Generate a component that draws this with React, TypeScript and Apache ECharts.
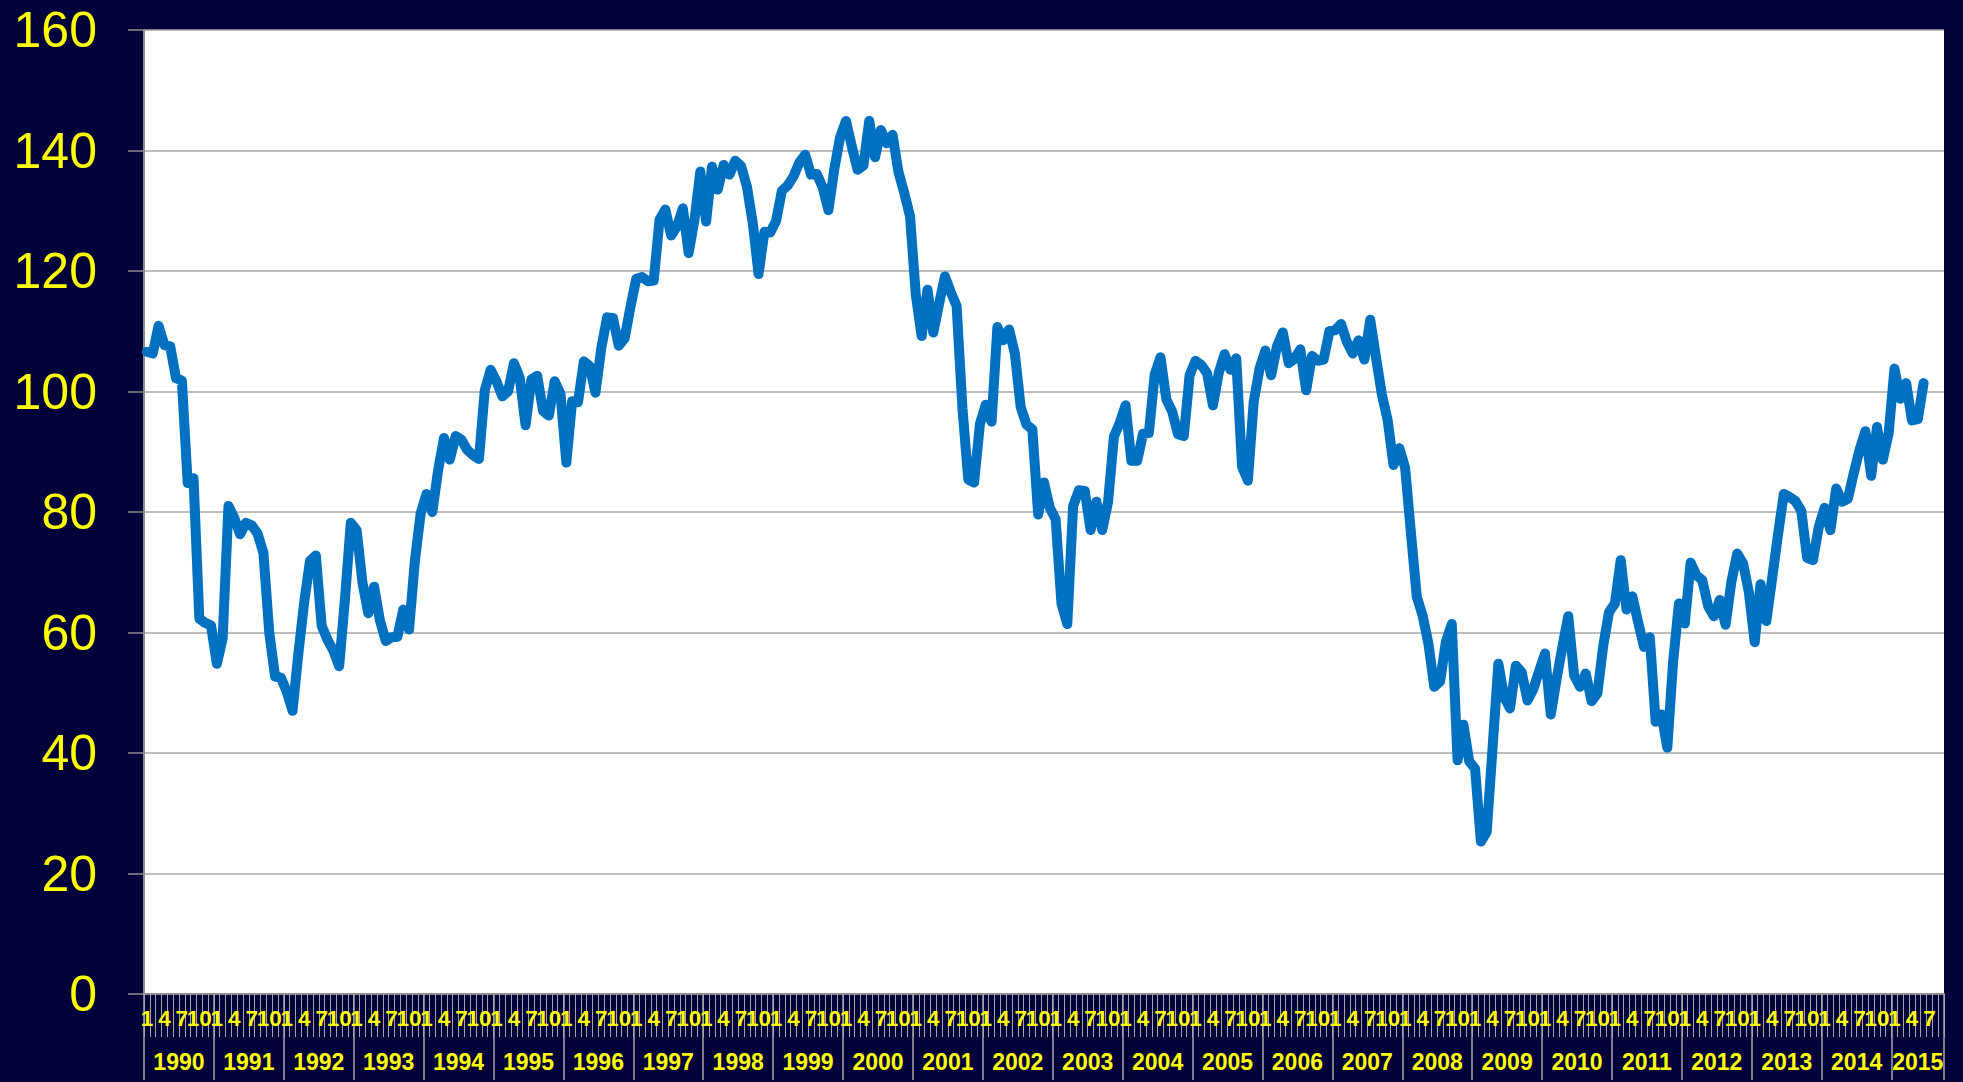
import React, { useEffect, useRef } from "react";
import * as echarts from "echarts";

// Monthly index values, Jan 1990 .. Jun 2015
const V1990 = [106.6, 106.3, 110.9, 107.7, 107.5, 102.2, 101.8, 84.8, 85.6, 62.3, 61.6, 61.2];
const V1991 = [54.8, 59.0, 81.0, 79.0, 76.3, 78.2, 77.8, 76.4, 73.2, 60.0, 52.7, 52.5];
const V1992 = [50.2, 47.0, 56.5, 65.0, 71.9, 72.8, 61.1, 58.8, 57.0, 54.4, 65.6, 78.2];
const V1993 = [77.0, 68.3, 63.2, 67.6, 62.0, 58.6, 59.2, 59.3, 63.8, 60.5, 71.9, 79.8];
const V1994 = [83.0, 80.0, 87.0, 92.3, 88.7, 92.6, 92.0, 90.3, 89.4, 88.8, 100.2, 103.6];
const V1995 = [101.7, 99.2, 100.0, 104.7, 102.3, 94.4, 102.0, 102.6, 96.8, 96.0, 101.7, 99.6];
const V1996 = [88.2, 98.4, 98.2, 105.0, 104.2, 99.8, 107.2, 112.3, 112.2, 107.6, 108.8, 114.0];
const V1997 = [118.7, 119.0, 118.3, 118.4, 128.5, 130.2, 125.9, 127.4, 130.4, 123.0, 128.5, 136.5];
const V1998 = [128.2, 137.3, 133.5, 137.6, 136.0, 138.3, 137.4, 134.0, 128.0, 119.5, 126.5, 126.4];
const V1999 = [128.3, 133.3, 134.2, 135.7, 138.0, 139.3, 136.0, 136.1, 133.9, 130.1, 136.9, 142.2];
const V2000 = [144.9, 140.7, 136.8, 137.5, 144.9, 138.9, 143.4, 141.2, 142.6, 136.5, 133.0, 129.1];
const V2001 = [116.0, 109.2, 116.9, 109.8, 114.6, 119.1, 116.5, 114.2, 97.2, 85.4, 84.9, 94.6];
const V2002 = [97.8, 95.0, 110.7, 108.5, 110.3, 106.3, 97.4, 94.5, 93.7, 79.6, 84.9, 80.7];
const V2003 = [78.8, 64.8, 61.4, 81.0, 83.6, 83.5, 77.0, 81.7, 77.0, 81.7, 92.5, 94.8];
const V2004 = [97.7, 88.5, 88.5, 93.0, 93.1, 102.8, 105.7, 98.7, 96.7, 92.9, 92.6, 102.7];
const V2005 = [105.1, 104.4, 103.0, 97.7, 103.1, 106.2, 103.6, 105.5, 87.5, 85.2, 98.3, 103.8];
const V2006 = [106.8, 102.7, 107.5, 109.8, 104.7, 105.4, 107.0, 100.2, 105.9, 105.1, 105.3, 110.0];
const V2007 = [110.2, 111.2, 108.2, 106.3, 108.5, 105.3, 111.9, 105.6, 99.5, 95.2, 87.8, 90.6];
const V2008 = [87.3, 76.4, 65.9, 62.8, 58.1, 51.0, 51.9, 58.5, 61.4, 38.8, 44.7, 38.6];
const V2009 = [37.4, 25.3, 26.9, 40.8, 54.8, 49.3, 47.4, 54.5, 53.4, 48.7, 50.6, 53.6];
const V2010 = [56.5, 46.4, 52.3, 57.7, 62.7, 52.9, 51.0, 53.2, 48.6, 49.9, 57.8, 63.4];
const V2011 = [64.8, 72.0, 63.8, 66.0, 61.7, 57.6, 59.2, 45.2, 46.4, 40.9, 55.2, 64.8];
const V2012 = [61.5, 71.6, 69.5, 68.7, 64.4, 62.7, 65.4, 61.3, 68.4, 73.1, 71.5, 66.7];
const V2013 = [58.4, 68.0, 61.9, 69.0, 76.2, 83.0, 82.5, 81.8, 80.2, 72.4, 72.0, 77.5];
const V2014 = [80.7, 77.0, 83.9, 81.7, 82.2, 86.4, 90.3, 93.4, 86.0, 94.1, 88.7, 93.1];
const V2015 = [103.8, 98.8, 101.4, 95.2, 95.4, 101.4];

// Category structure: years on the axis and months shown for each year
const YEARS = [
  "1990", "1991", "1992", "1993", "1994", "1995", "1996", "1997", "1998",
  "1999", "2000", "2001", "2002", "2003", "2004", "2005", "2006", "2007",
  "2008", "2009", "2010", "2011", "2012", "2013", "2014", "2015",
];
const MONTHS_PER_YEAR = [12, 12, 12, 12, 12, 12, 12, 12, 12, 12, 12, 12, 12, 12, 12, 12, 12, 12, 12, 12, 12, 12, 12, 12, 12, 9];

const VALUES = [
  ...V1990, ...V1991, ...V1992, ...V1993, ...V1994, ...V1995, ...V1996,
  ...V1997, ...V1998, ...V1999, ...V2000, ...V2001, ...V2002, ...V2003,
  ...V2004, ...V2005, ...V2006, ...V2007, ...V2008, ...V2009, ...V2010,
  ...V2011, ...V2012, ...V2013, ...V2014, ...V2015,
];

export default function App() {
  const ref = useRef<HTMLDivElement>(null);

  useEffect(() => {
    document.body.style.margin = "0";
    if (!ref.current) return;
    const chart = echarts.init(ref.current, null, { renderer: "svg" });

    const categories: string[] = [];
    const yearBounds: number[] = [];
    const yearCenters: number[] = [];
    const yearOfIndex: string[] = [];
    let idx = 0;
    YEARS.forEach((y, k) => {
      const n = MONTHS_PER_YEAR[k];
      yearBounds.push(idx);
      yearCenters.push(idx + n / 2);
      for (let m = 1; m <= n; m++) {
        categories.push(y + "-" + m);
        yearOfIndex.push(y);
      }
      idx += n;
    });
    yearBounds.push(idx);
    const total = idx;

    const yellow = "#FFFF00";
    const labelFont = '"Liberation Sans", Arial, sans-serif';
    const narrowFont = '"Liberation Sans Narrow", "Arial Narrow", "Liberation Sans", Arial, sans-serif';

    chart.setOption({
      animation: false,
      backgroundColor: "#03013A",
      grid: {
        left: 144,
        right: 19,
        top: 30,
        bottom: 88,
        show: true,
        backgroundColor: "#FFFFFF",
        borderWidth: 0,
      },
      xAxis: [
        {
          type: "category",
          data: categories,
          boundaryGap: true,
          position: "bottom",
          axisLine: { show: true, lineStyle: { color: "#8C8C8C", width: 2 } },
          axisTick: {
            show: true,
            interval: 0,
            length: 43,
            lineStyle: { color: "#A6A6A6", width: 1 },
          },
          axisLabel: {
            interval: (i: number) => i % 3 === 0,
            formatter: (v: string) => v.split("-")[1],
            color: yellow,
            fontSize: 22.5,
            fontWeight: "bold",
            fontFamily: narrowFont,
            margin: 13,
          },
          splitLine: { show: false },
        },
        {
          type: "value",
          min: 0,
          max: total,
          position: "bottom",
          axisLine: { show: false },
          axisTick: {
            show: true,
            customValues: yearBounds,
            length: 86,
            lineStyle: { color: "#A6A6A6", width: 1.5 },
          },
          axisLabel: {
            customValues: yearCenters,
            formatter: (v: number) => yearOfIndex[Math.min(total - 1, Math.floor(v))],
            color: yellow,
            fontSize: 23,
            fontWeight: "bold",
            fontFamily: labelFont,
            margin: 56,
          },
          splitLine: { show: false },
        },
      ],
      yAxis: {
        type: "value",
        min: 0,
        max: 160,
        interval: 20,
        axisLine: { show: true, lineStyle: { color: "#8C8C8C", width: 2 } },
        axisTick: { show: true, length: 16, lineStyle: { color: "#8C8C8C", width: 1.5 } },
        axisLabel: {
          color: yellow,
          fontSize: 50,
          fontFamily: labelFont,
          margin: 47,
        },
        splitLine: { show: true, lineStyle: { color: "#A6A6A6", width: 1.5 } },
      },
      series: [
        {
          type: "line",
          xAxisIndex: 0,
          yAxisIndex: 0,
          data: VALUES,
          symbol: "none",
          lineStyle: { color: "#0070C0", width: 10, join: "round", cap: "round" },
        },
      ],
    });

    return () => chart.dispose();
  }, []);

  return (
    <div
      ref={ref}
      style={{ position: "absolute", left: 0, top: 0, width: 1963, height: 1082 }}
    />
  );
}
